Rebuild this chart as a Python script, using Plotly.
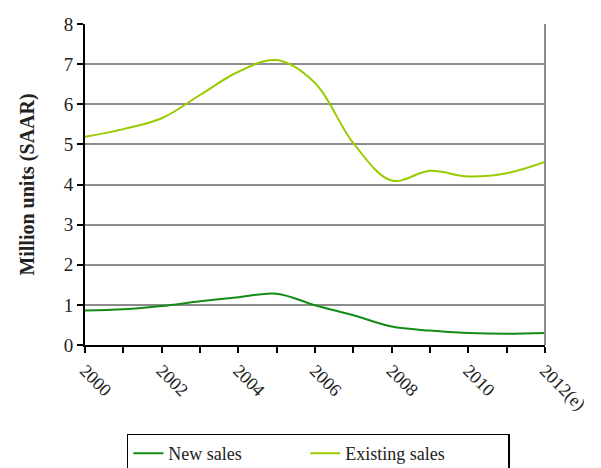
import plotly.graph_objects as go

years = list(range(2000, 2013))
tick_labels = ["2000", "", "2002", "", "2004", "", "2006", "", "2008", "", "2010", "", "2012(e)"]
new_sales = [0.86, 0.89, 0.97, 1.09, 1.19, 1.28, 0.99, 0.74, 0.46, 0.36, 0.30, 0.28, 0.30]
existing_sales = [5.19, 5.38, 5.65, 6.23, 6.81, 7.10, 6.53, 5.03, 4.10, 4.34, 4.20, 4.28, 4.56]

FONT = "Liberation Serif"
NB = "\u00a0"

fig = go.Figure()
fig.add_trace(go.Scatter(x=years, y=new_sales, name="New sales" + NB * 13, mode="lines",
                         line=dict(color="#128c12", width=2, shape="spline", smoothing=1.0)))
fig.add_trace(go.Scatter(x=years, y=existing_sales, name="Existing sales" + NB * 13, mode="lines",
                         line=dict(color="#99cc00", width=2, shape="spline", smoothing=1.0)))

fig.update_layout(
    width=601, height=468,
    margin=dict(l=77, r=64, t=16, b=131, autoexpand=False),
    paper_bgcolor="white", plot_bgcolor="white",
    font=dict(family=FONT, size=18, color="#222"),
    showlegend=True,
    legend=dict(orientation="h", x=0.091, y=-0.276, xanchor="left", yanchor="top",
                bordercolor="black", borderwidth=1.5, font=dict(size=18, family=FONT)),
    xaxis=dict(range=[2000, 2012], tickvals=years, ticktext=tick_labels, tickangle=45,
               showgrid=False, showline=True, linecolor="black", linewidth=2,
               ticks="outside", ticklen=6, tickwidth=2, tickcolor="black",
               tickfont=dict(size=18, family=FONT), zeroline=False, automargin=False),
    yaxis=dict(range=[0, 8], dtick=1, showgrid=True, gridcolor="#8c8c8c", gridwidth=2,
               showline=True, linecolor="black", linewidth=2, ticks="outside",
               ticklen=6, tickwidth=2, tickcolor="black", zeroline=False, automargin=False,
               title=dict(text="<b>Million units (SAAR)</b>", font=dict(size=20, family=FONT), standoff=24),
               tickfont=dict(size=19, family=FONT)),
)
fig.add_shape(type="line", xref="paper", yref="paper", x0=1, x1=1, y0=0, y1=1,
              line=dict(color="#8c8c8c", width=2))
fig.write_html("out.html")
